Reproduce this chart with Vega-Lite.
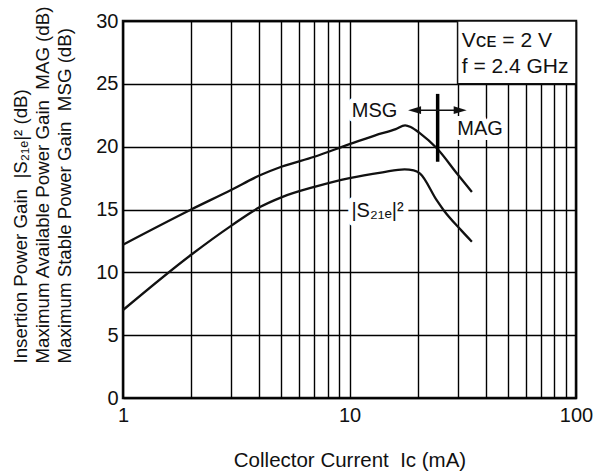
{
  "$schema": "https://vega.github.io/schema/vega-lite/v6.json",
  "width": 453,
  "height": 377,
  "autosize": {"type": "none"},
  "padding": {"left": 123, "top": 21, "right": 17, "bottom": 75},
  "background": "white",
  "config": {
    "view": {"stroke": "#111111", "strokeWidth": 2.5},
    "font": "Liberation Sans, Arial, DejaVu Sans, sans-serif",
    "text": {"font": "Liberation Sans, Arial, DejaVu Sans, sans-serif"}
  },
  "datasets": {
    "curves": [
      {"series": "MSG/MAG", "current": 1, "gain": 12.2},
      {"series": "MSG/MAG", "current": 2, "gain": 15.0},
      {"series": "MSG/MAG", "current": 3, "gain": 16.55},
      {"series": "MSG/MAG", "current": 4, "gain": 17.7},
      {"series": "MSG/MAG", "current": 5, "gain": 18.4},
      {"series": "MSG/MAG", "current": 7, "gain": 19.2},
      {"series": "MSG/MAG", "current": 10, "gain": 20.2},
      {"series": "MSG/MAG", "current": 13, "gain": 20.9},
      {"series": "MSG/MAG", "current": 16, "gain": 21.4},
      {"series": "MSG/MAG", "current": 17.6, "gain": 21.7},
      {"series": "MSG/MAG", "current": 18.7, "gain": 21.55},
      {"series": "MSG/MAG", "current": 20.5, "gain": 21.06},
      {"series": "MSG/MAG", "current": 24.3, "gain": 19.87},
      {"series": "MSG/MAG", "current": 30, "gain": 17.8},
      {"series": "MSG/MAG", "current": 34.7, "gain": 16.4},
      {"series": "S21e", "current": 1, "gain": 7.0},
      {"series": "S21e", "current": 2, "gain": 11.4},
      {"series": "S21e", "current": 3, "gain": 13.7},
      {"series": "S21e", "current": 4, "gain": 15.17},
      {"series": "S21e", "current": 5, "gain": 15.97},
      {"series": "S21e", "current": 7, "gain": 16.8},
      {"series": "S21e", "current": 10, "gain": 17.5},
      {"series": "S21e", "current": 14, "gain": 17.96},
      {"series": "S21e", "current": 17.5, "gain": 18.2},
      {"series": "S21e", "current": 19.2, "gain": 18.12},
      {"series": "S21e", "current": 20.5, "gain": 17.85},
      {"series": "S21e", "current": 24.3, "gain": 15.72},
      {"series": "S21e", "current": 26, "gain": 14.96},
      {"series": "S21e", "current": 31.3, "gain": 13.3},
      {"series": "S21e", "current": 34.7, "gain": 12.44}
    ],
    "box": [{"current": 30, "current2": 100, "gain": 25, "gain2": 30}],
    "boundary": [{"current": 24.5, "gain": 18.8, "gain2": 24.2}],
    "arrowline": [{"current": 19.4, "current2": 30.8, "gain": 22.9}],
    "arrowheads": [
      {"current": 19.37, "gain": 22.9, "dir": "left"},
      {"current": 30.8, "gain": 22.9, "dir": "right"}
    ],
    "labels": [
      {"current": 12.9, "gain": 22.38, "text": "MSG"},
      {"current": 37.7, "gain": 20.93, "text": "MAG"},
      {"current": 13.3, "gain": 14.43, "text": "|S₂₁ₑ|²"}
    ],
    "conditions": [
      {"current": 31.3, "gain": 27.91, "text": "Vᴄᴇ = 2 V"},
      {"current": 31.3, "gain": 25.84, "text": "f = 2.4 GHz"}
    ]
  },
  "encoding": {
    "x": {
      "field": "current",
      "type": "quantitative",
      "scale": {"type": "log", "domain": [1, 100], "nice": false},
      "axis": {
        "values": [1, 2, 3, 4, 5, 6, 7, 8, 9, 10, 20, 30, 40, 50, 60, 70, 80, 90, 100],
        "labelExpr": "datum.value == 1 || datum.value == 10 || datum.value == 100 ? format(datum.value, 'd') : ''",
        "labelOverlap": false,
        "labelFlush": false,
        "labelFontSize": 20,
        "labelColor": "#111111",
        "labelPadding": 7,
        "ticks": false,
        "domain": false,
        "grid": true,
        "gridColor": "#000000",
        "gridWidth": 1.4,
        "gridOpacity": 1,
        "title": "Collector Current\u00a0\u00a0Iᴄ (mA)",
        "titleFontSize": 20.5,
        "titleFontWeight": "normal",
        "titleColor": "#111111",
        "titleBaseline": "alphabetic",
        "titleY": 68.7
      }
    },
    "y": {
      "field": "gain",
      "type": "quantitative",
      "scale": {"domain": [0, 30], "nice": false},
      "axis": {
        "values": [0, 5, 10, 15, 20, 25, 30],
        "labelFontSize": 20,
        "labelColor": "#111111",
        "labelPadding": 5,
        "labelFlush": false,
        "labelOverlap": false,
        "ticks": false,
        "domain": false,
        "grid": true,
        "gridColor": "#000000",
        "gridWidth": 1.4,
        "gridOpacity": 1,
        "title": ["Insertion Power Gain\u00a0\u00a0|S₂₁ₑ|² (dB)", "Maximum Available Power Gain\u00a0\u00a0MAG (dB)", "Maximum Stable Power Gain\u00a0\u00a0MSG (dB)"],
        "titleFontSize": 18.7,
        "titleFontWeight": "normal",
        "titleColor": "#111111",
        "titleAngle": 270,
        "titleAlign": "left",
        "titleBaseline": "middle",
        "titleLineHeight": 22,
        "titleX": -103,
        "titleY": 342
      }
    }
  },
  "layer": [
    {
      "data": {"name": "box"},
      "mark": {"type": "rect", "fill": "white", "stroke": "#111111", "strokeWidth": 1.5},
      "encoding": {"x2": {"field": "current2"}, "y2": {"field": "gain2"}}
    },
    {
      "data": {"name": "labels"},
      "mark": {"type": "text", "fontSize": 20, "align": "center", "baseline": "alphabetic", "fill": "white", "stroke": "white", "strokeWidth": 10, "strokeJoin": "round"},
      "encoding": {"text": {"field": "text"}}
    },
    {
      "data": {"name": "curves"},
      "mark": {"type": "line", "color": "#111111", "strokeWidth": 2.3, "interpolate": "monotone"},
      "encoding": {"detail": {"field": "series"}}
    },
    {
      "data": {"name": "boundary"},
      "mark": {"type": "rule", "color": "#000000", "strokeWidth": 3.5},
      "encoding": {"y2": {"field": "gain2"}}
    },
    {
      "data": {"name": "arrowline"},
      "mark": {"type": "rule", "color": "#111111", "strokeWidth": 1.5},
      "encoding": {"x2": {"field": "current2"}}
    },
    {
      "data": {"name": "arrowheads"},
      "mark": {"type": "point", "filled": true, "color": "#111111", "size": 169, "opacity": 1},
      "encoding": {
        "shape": {
          "field": "dir",
          "type": "nominal",
          "scale": {"domain": ["left", "right"], "range": ["M-1,0L1,-0.6L1,0.6Z", "M1,0L-1,-0.6L-1,0.6Z"]},
          "legend": null
        }
      }
    },
    {
      "data": {"name": "labels"},
      "mark": {"type": "text", "fontSize": 20, "align": "center", "baseline": "alphabetic", "color": "#111111"},
      "encoding": {"text": {"field": "text"}}
    },
    {
      "data": {"name": "conditions"},
      "mark": {"type": "text", "fontSize": 21, "align": "left", "baseline": "alphabetic", "color": "#111111"},
      "encoding": {"text": {"field": "text"}}
    }
  ]
}
